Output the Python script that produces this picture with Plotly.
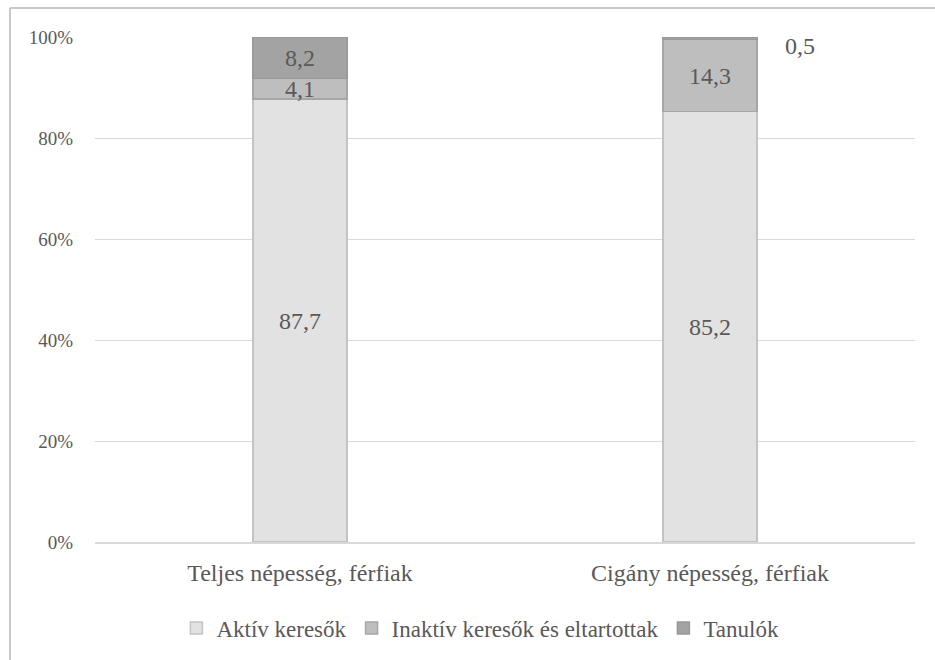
import plotly.graph_objects as go

categories = ["Teljes népesség, férfiak", "Cigány népesség, férfiak"]
series_names = ["Aktív keresők", "Inaktív keresők és eltartottak", "Tanulók"]
aktiv = [87.7, 85.2]
inaktiv = [4.1, 14.3]
tanulok = [8.2, 0.5]
y_ticks = [0, 20, 40, 60, 80, 100]
y_tick_labels = ["0%", "20%", "40%", "60%", "80%", "100%"]

fills = ["#e2e2e2", "#bebebe", "#a3a3a3"]
edges = ["#c3c3c3", "#a6a6a6", "#999999"]
txt = "#595959"
font_family = "Liberation Serif"

def fmt(v):
    return f"{v:.1f}".replace(".", ",")

fig = go.Figure()
values = [aktiv, inaktiv, tanulok]
for i, (name, vals) in enumerate(zip(series_names, values)):
    labels = [fmt(v) if v >= 1 else "" for v in vals]
    fig.add_trace(go.Bar(
        name=name, x=categories, y=vals,
        marker=dict(color=fills[i], line=dict(color=edges[i], width=1.5)),
        text=labels, textposition="inside", insidetextanchor="middle",
        textfont=dict(size=24, color=txt, family=font_family),
        constraintext="none", textangle=0,
        hoverinfo="name+y",
    ))

for ci, v in enumerate(tanulok):
    if v < 1:
        fig.add_annotation(x=categories[ci], y=100, text=fmt(v), showarrow=False,
                           xshift=90, yshift=-9, xanchor="center", yanchor="middle",
                           font=dict(size=24, color=txt, family=font_family))

fig.add_shape(type="line", xref="paper", yref="paper", x0=-0.1037, x1=1.2, y0=1.0573, y1=1.0573,
              line=dict(color="#c8c8c8", width=2))
fig.add_shape(type="line", xref="paper", yref="paper", x0=-0.1037, x1=-0.1037, y0=-0.4, y1=1.0573,
              line=dict(color="#c8c8c8", width=2))

fig.update_layout(
    barmode="stack",
    bargap=0.77,
    width=935, height=660,
    margin=dict(l=95, r=20, t=37, b=117),
    paper_bgcolor="white", plot_bgcolor="white",
    font=dict(family=font_family, color=txt, size=18),
    showlegend=True,
    legend=dict(orientation="h", x=0.47, xanchor="center", y=-0.168, yanchor="middle",
                font=dict(size=23, color=txt, family=font_family),
                traceorder="normal", itemwidth=30),
)
fig.update_xaxes(showgrid=False, showline=True, linecolor="#d9d9d9", linewidth=1.5,
                 tickfont=dict(size=24, color=txt, family=font_family), ticks="outside",
                 ticklen=8, tickcolor="rgba(0,0,0,0)")
fig.update_yaxes(range=[0, 100], tickmode="array", tickvals=y_ticks, ticktext=y_tick_labels,
                 showgrid=True, gridcolor="#d9d9d9", gridwidth=1.2, zeroline=False, showline=False,
                 tickfont=dict(size=19, color=txt, family=font_family), ticks="outside",
                 ticklen=17, tickcolor="rgba(0,0,0,0)")

fig.write_html("out.html")
